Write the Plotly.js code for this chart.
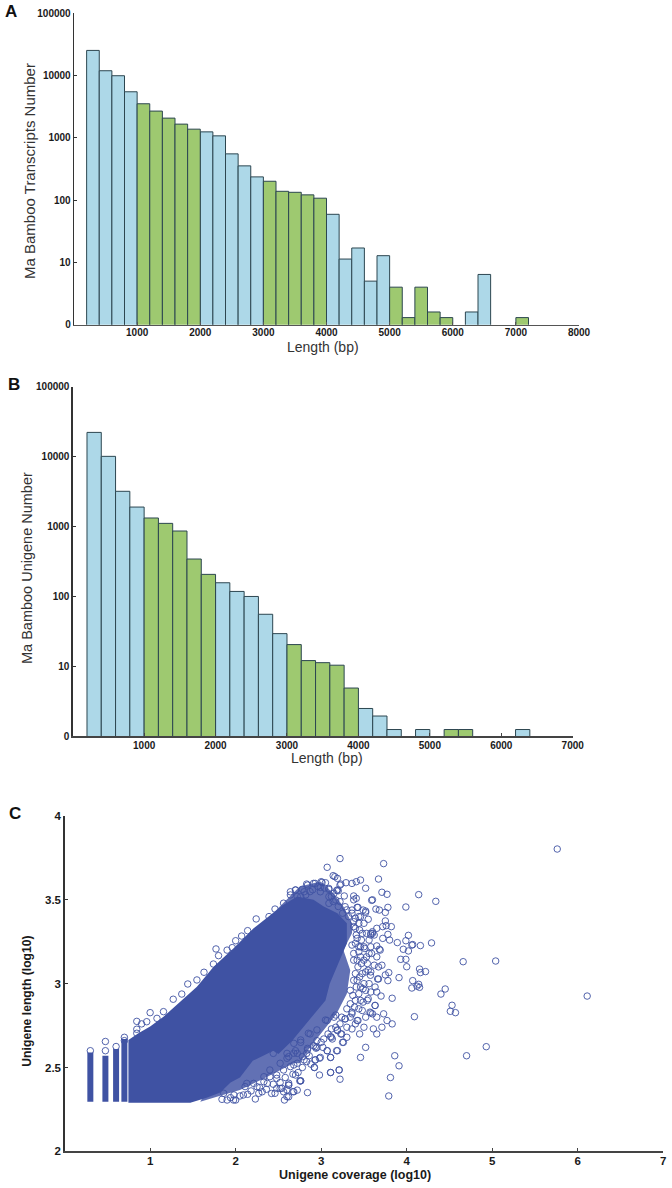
<!DOCTYPE html>
<html><head><meta charset="utf-8">
<script src="https://cdn.plot.ly/plotly-3.0.1.min.js"></script>
<style>html,body{margin:0;padding:0;background:#fff}</style></head>
<body><div id="chart" style="width:672px;height:1188px"></div>
<script>
// Panel A: bin centres (bp) and counts
const aBlueBins=[300,500,700,900,2100,2300,2500,2700,2900,4100,4300,4500,4700,4900,6300,6500];
const aBlueCounts=[25100,11850,9860,5450,1240,1070,550,353,235,59,11.3,17,5,12.8,1.6,6.4];
const aGreenBins=[1100,1300,1500,1700,1900,3100,3300,3500,3700,3900,5100,5300,5500,5700,5900,7100];
const aGreenCounts=[3500,2670,2060,1650,1370,200,138,133,121,107,4,1.3,4,1.6,1.3,1.3];
// Panel B
const bBlueBins=[300,500,700,900,2100,2300,2500,2700,2900,4100,4300,4500,4900,6300];
const bBlueCounts=[22200,10090,3190,1900,157,118,100,55.6,29.4,2.5,1.95,1.25,1.25,1.25];
const bGreenBins=[1100,1300,1500,1700,1900,3100,3300,3500,3700,3900,5300,5500];
const bGreenCounts=[1325,1110,863,343,207,20.5,12.1,11.3,10.4,4.9,1.25,1.25];
const countTicks=[1,10,100,1000,10000,100000];
const countLabels=['0','10','100','1000','10000','100000'];
const aLengthTicks=[1000,2000,3000,4000,5000,6000,7000,8000];
const bLengthTicks=[1000,2000,3000,4000,5000,6000,7000];
// Panel C: outline of the saturated cloud
const coreCoverage=[0.746,0.746,0.863,1.0,1.156,1.351,1.547,1.742,1.976,2.21,2.405,2.56,2.72,2.91,3.03,3.19,3.3,3.3,3.2,3.1,3.05,2.85,2.66,2.5,2.44,2.2,2.05,1.94,1.82,1.66,1.47];
const coreLength=[2.29,2.664,2.704,2.744,2.803,2.893,2.982,3.101,3.211,3.33,3.41,3.47,3.52,3.5,3.46,3.42,3.36,3.24,3.12,3.0,2.9,2.78,2.66,2.58,2.6,2.54,2.44,2.41,2.35,2.32,2.29];
const haloCoverage=[2.4,2.75,2.99,3.14,3.26,3.36,3.36,3.26,3.34,3.3,3.18,3.03,2.87,2.75,2.68,2.37,2.05,1.78,1.586,2.4];
const haloLength=[3.4,3.58,3.61,3.54,3.46,3.36,3.3,3.2,3.08,2.94,2.82,2.72,2.62,2.525,2.525,2.445,2.366,2.326,2.296,3.0];
// Discrete coverage columns
const columnCoverage=[0.301,0.477,0.602,0.699];
const columnTop=[2.59,2.57,2.61,2.67];
const columnBottom=2.295;
// Individually readable circles
const circles=[[5.76,3.803],[3.22,3.746],[3.73,3.716],[3.07,3.694],[3.14,3.644],[3.16,3.638],[3.19,3.628],[3.67,3.624],[3.22,3.588],[3.29,3.602],[3.36,3.598],[3.41,3.608],[3.46,3.618],[3.52,3.569],[3.18,3.555],[3.71,3.545],[3.77,3.533],[4.14,3.531],[4.34,3.491],[3.38,3.523],[3.41,3.509],[3.59,3.497],[3.99,3.457],[3.78,3.455],[3.68,3.439],[3.64,3.445],[3.75,3.425],[3.42,3.455],[3.49,3.439],[3.52,3.425],[3.44,3.4],[3.55,3.384],[3.75,3.374],[3.76,3.346],[3.82,3.34],[3.65,3.33],[3.72,3.34],[3.6,3.31],[3.6,3.3],[3.58,3.29],[3.62,3.29],[3.78,3.294],[3.72,3.27],[3.8,3.26],[4.02,3.288],[3.99,3.256],[3.89,3.245],[4.07,3.233],[4.06,3.23],[4.16,3.227],[4.29,3.243],[3.96,3.205],[4.02,3.195],[3.68,3.205],[3.69,3.2],[3.65,3.225],[3.58,3.22],[3.51,3.21],[3.46,3.22],[3.44,3.19],[3.53,3.16],[3.59,3.18],[4.66,3.131],[5.04,3.135],[3.93,3.145],[3.99,3.145],[4.0,3.101],[4.15,3.087],[4.22,3.072],[4.16,3.066],[3.91,3.036],[4.07,3.018],[4.06,2.974],[4.14,2.996],[4.15,2.978],[4.12,2.985],[4.45,2.968],[4.4,2.938],[6.11,2.926],[3.83,2.913],[4.53,2.871],[4.51,2.835],[4.57,2.827],[4.09,2.803],[3.79,3.066],[3.75,3.052],[3.78,3.018],[3.66,3.028],[3.67,3.028],[3.71,3.11],[3.67,3.1],[3.62,3.11],[3.52,3.07],[3.55,3.08],[3.48,3.06],[3.63,2.98],[3.65,2.95],[3.7,2.926],[3.49,2.97],[3.55,2.91],[3.63,2.87],[3.49,2.89],[3.57,2.83],[3.58,2.825],[3.65,2.8],[3.73,2.82],[3.77,2.78],[3.83,2.76],[3.71,2.74],[3.61,2.73],[3.65,2.7],[3.45,2.7],[3.4,2.76],[3.42,2.78],[3.36,2.83],[3.28,2.79],[3.24,2.7],[3.12,2.68],[3.25,2.65],[3.52,2.62],[3.18,2.6],[3.07,2.6],[3.11,2.56],[3.46,2.56],[4.93,2.624],[4.7,2.57],[3.86,2.57],[3.91,2.51],[3.21,2.485],[3.11,2.47],[2.98,2.455],[2.92,2.5],[2.98,2.555],[2.93,2.545],[2.83,2.535],[2.94,2.615],[2.84,2.605],[3.81,2.44],[3.22,2.43],[2.84,2.35],[3.79,2.33],[2.75,2.42],
[2.57,2.306],[2.76,2.42],[2.62,2.406],[2.67,2.356],[2.6,2.366],[2.54,2.376],[2.46,2.346],[2.23,2.312],[2.27,2.346],[2.0,2.306],[1.9,2.306],[1.86,2.346],[1.98,2.336],[2.11,2.386],[2.21,2.405],[2.33,2.415],[2.4,2.445],[2.48,2.455],[2.64,2.505],[2.72,2.525],[2.78,2.565],[2.84,2.614],[2.93,2.624],[2.68,2.585],[2.6,2.555],[2.76,2.664],[2.85,2.704],[2.95,2.724],[3.11,2.684],[3.19,2.724],[3.05,2.783],[3.17,2.813],
[0.844,2.775],[0.844,2.728],[0.844,2.704],[0.9,2.76],[0.96,2.773],[1.0,2.827],[1.08,2.793],[1.156,2.833],[1.27,2.907],[1.37,2.938],[1.44,2.998],[1.547,3.022],[1.63,3.068],[1.74,3.117],[1.77,3.207],[1.8,3.167],[1.9,3.2],[1.96,3.215],[2.0,3.256],[2.07,3.284],[2.14,3.316],[2.24,3.386],[2.39,3.4],[2.46,3.445],[2.56,3.48],[2.7,3.559],[2.78,3.563],[2.84,3.588],[2.93,3.598],[3.0,3.608],[3.05,3.602],[2.99,3.574],[2.87,3.549],[2.64,3.529],[2.76,3.519],[3.09,3.568],[3.15,3.539],[3.19,3.559],
[2.83,3.594],[2.91,3.598],[3.01,3.604],[2.7,3.558],[2.64,3.548],[2.8,3.548],[2.99,3.548],[3.09,3.562],[3.09,3.519],[3.2,3.554],[3.23,3.594],[3.27,3.523],[3.38,3.5],[3.22,3.489],[3.17,3.499],[3.09,3.479],[3.28,3.459],[3.36,3.439],[3.43,3.455],[3.52,3.433],[3.46,3.399],[3.38,3.37],[3.4,3.33],[3.48,3.3],[3.42,3.27],[3.36,3.23],[3.5,3.22],[3.56,3.18],[3.46,3.16],[3.54,3.12],[3.38,3.18],[3.43,3.1],[3.6,3.5],[3.58,3.3],[3.65,3.16],[3.58,3.07],
[3.576,3.05],[3.5,3.0],[3.42,3.02],[3.34,2.96],[3.44,2.94],[3.54,2.9],[3.63,2.87],[3.6,2.82],[3.36,2.82],[3.44,2.85],[3.28,2.79],[3.43,2.78],[3.19,2.72],[3.23,2.7],[3.13,2.67],[3.26,2.65],[2.95,2.62],[3.07,2.6],[3.19,2.6],[2.93,2.545],[2.99,2.56],[3.11,2.56],[2.92,2.5],[3.11,2.47],[3.21,2.485],[2.76,2.42],[2.7,2.455],[2.62,2.395],[2.68,2.355],[2.52,2.375],[2.62,2.325],[2.83,2.584],[2.76,2.65],[2.7,2.6],[2.62,2.565],[2.68,2.515],[2.56,2.485],[2.48,2.435],[2.8,2.545],[2.87,2.7],[3.07,2.78],[3.15,2.8],
[1.975,2.306],[2.09,2.336],[2.25,2.385],[2.13,2.405],[2.37,2.405],[2.48,2.375],[2.6,2.326],[2.62,2.395],[2.56,2.355],[2.72,2.365],[2.42,2.345],[2.31,2.355],[2.52,2.525],[2.4,2.485],[2.33,2.445],[2.44,2.584],[2.6,2.584],[2.72,2.584],[2.68,2.644],
[3.36,3.42],[3.4,3.39],[3.44,3.36],[3.38,3.34],[3.45,3.32],[3.41,3.29],[3.47,3.26],[3.4,3.24],[3.44,3.22],[3.38,3.14],[3.42,3.14],[3.47,3.12],[3.4,3.06],[3.45,3.04],[3.38,3.02],[3.41,2.98],[3.46,2.98],[3.37,2.93],[3.4,2.9],[3.46,2.9],[3.34,2.88],[3.39,2.86],[3.3,2.85],[3.34,2.8],[3.24,2.8],[3.22,2.76],[3.3,2.74],[3.17,2.74],[3.12,2.73],[3.08,2.7],[3.03,2.67],[3.0,2.65],[2.95,2.66],[2.91,2.63],[2.86,2.57],[2.78,2.5],[2.73,2.47],[2.67,2.46],[2.58,2.44],[2.52,2.41],[2.44,2.4],[2.36,2.37],[2.28,2.38],[2.18,2.36],[2.14,2.34],[2.05,2.33],[1.94,2.32],[1.84,2.31],[2.72,3.52],[2.82,3.53],[2.9,3.56],[2.96,3.58],[3.04,3.57],[3.12,3.52],[3.14,3.49],[3.2,3.46],[3.25,3.42],[3.3,3.44],[3.32,3.4],[3.5,3.36],[3.53,3.3],[3.56,3.26],[3.5,3.14],[3.56,3.0],[3.52,2.96],[3.58,2.95],[3.48,2.84],[3.52,2.8],[3.5,2.74],[3.36,2.73],[3.3,2.68],[3.02,2.62],[2.88,2.52],
[0.477,2.6],[0.477,2.655],[0.301,2.6],[0.602,2.625],[0.699,2.68],[0.699,2.66]];
const coverageTicks=[1,2,3,4,5,6,7];
const lengthTicks=[2,2.5,3,3.5,4];
const lengthLabels=['2','2.5','3','3.5','4'];

const BLUE='#add8e8', GREEN='#9ec970', EDGE='#2c4650', DOT='#3f52a3';
const W=672,H=1188;
const fx=p=>p/W, fy=p=>1-p/H;
function bars(x,y,c,xa,ya,name){return {type:'bar',x:x,y:y,width:200,name:name,xaxis:xa,yaxis:ya,
  marker:{color:c,line:{color:EDGE,width:1}},showlegend:false,hoverinfo:'x+y'};}
const traces=[
  bars(aBlueBins,aBlueCounts,BLUE,'x','y','A blue'),
  bars(aGreenBins,aGreenCounts,GREEN,'x','y','A green'),
  bars(bBlueBins,bBlueCounts,BLUE,'x2','y2','B blue'),
  bars(bGreenBins,bGreenCounts,GREEN,'x2','y2','B green'),
  {type:'scatter',mode:'lines',x:haloCoverage,y:haloLength,fill:'toself',fillcolor:'rgba(63,82,163,0.82)',line:{width:0},xaxis:'x3',yaxis:'y3',showlegend:false,hoverinfo:'skip'},
  {type:'scatter',mode:'lines',x:coreCoverage,y:coreLength,fill:'toself',fillcolor:DOT,line:{width:0},xaxis:'x3',yaxis:'y3',showlegend:false,hoverinfo:'skip'},
];
columnCoverage.forEach((c,i)=>traces.push({type:'scatter',mode:'lines',x:[c,c],y:[columnBottom,columnTop[i]],
  line:{color:DOT,width:6},xaxis:'x3',yaxis:'y3',showlegend:false,hoverinfo:'skip'}));
traces.push({type:'scatter',mode:'markers',x:circles.map(p=>p[0]),y:circles.map(p=>p[1]),xaxis:'x3',yaxis:'y3',showlegend:false,
  marker:{symbol:'circle-open',size:6.5,color:DOT,line:{color:DOT,width:0.9}}});

const tickFont={family:'"Liberation Sans",Arial,sans-serif',size:10,color:'#1a1a1a',weight:700};
const bigTick={family:'"Liberation Sans",Arial,sans-serif',size:11.5,color:'#1a1a1a',weight:700};
function xAxis(dom,rng,ticks,anchor,font,col,off){return {domain:[fx(dom[0]),fx(dom[1])],range:rng,tickmode:'array',tickvals:ticks,ticktext:ticks.map(String),
  anchor:anchor,showgrid:false,zeroline:false,showline:true,linecolor:col,linewidth:1.6,ticks:'inside',ticklen:3,tickcolor:col,tickwidth:1,tickfont:font,ticklabelstandoff:off,fixedrange:true};}
function yAxis(dom,rng,ticks,labels,anchor,font,type){return {domain:[fy(dom[1]),fy(dom[0])],type:type,range:rng,tickmode:'array',tickvals:ticks,ticktext:labels,
  anchor:anchor,showgrid:false,zeroline:false,showline:true,linecolor:'#333',linewidth:1.3,ticks:'inside',ticklen:3,tickcolor:'#333',tickwidth:1,tickfont:font,fixedrange:true};}
const fam='"Liberation Sans",Arial,sans-serif';
const titleFont=s=>({family:fam,size:s,color:'#333'});
const boldTitle=s=>({family:fam,size:s,color:'#1a1a1a',weight:700});
const panelFont={family:fam,size:17,color:'#111',weight:700};
function note(text,px,py,font,angle){return {text:text,xref:'paper',yref:'paper',x:fx(px),y:fy(py),xanchor:'center',yanchor:'middle',showarrow:false,font:font,textangle:angle||0};}
const layout={width:W,height:H,margin:{l:0,r:0,t:0,b:0},paper_bgcolor:'#fff',plot_bgcolor:'#fff',barmode:'overlay',showlegend:false,
  xaxis:xAxis([74,579],[0,8000],aLengthTicks,'y',tickFont,'#555',-2),
  yaxis:yAxis([13,324.7],[0,5],countTicks,countLabels,'x',tickFont,'log'),
  xaxis2:xAxis([72.7,572.7],[0,7000],bLengthTicks,'y2',tickFont,'#444',-1),
  yaxis2:yAxis([386.7,736.3],[0,5],countTicks,countLabels,'x2',tickFont,'log'),
  xaxis3:xAxis([64.6,663.3],[0,7],coverageTicks,'y3',bigTick,'#444',-2),
  yaxis3:yAxis([816,1151.3],[2,4],lengthTicks,lengthLabels,'x3',bigTick,'linear'),
  annotations:[
    note('A',11,12,panelFont),note('B',14,384,panelFont),note('C',15,813,panelFont),
    note('Length (bp)',323,347,titleFont(14)),
    note('Ma Bamboo Transcripts Number',30,171,titleFont(15),-90),
    note('Length (bp)',327,758,titleFont(14)),
    note('Ma Bamboo Unigene Number',27,568,titleFont(14.5),-90),
    note('Unigene coverage (log10)',354.5,1175,boldTitle(12.5)),
    note('Unigene length (log10)',26.7,1001,boldTitle(12.2),-90)
  ]};
Plotly.newPlot('chart',traces,layout,{staticPlot:true,displayModeBar:false});
</script></body></html>
